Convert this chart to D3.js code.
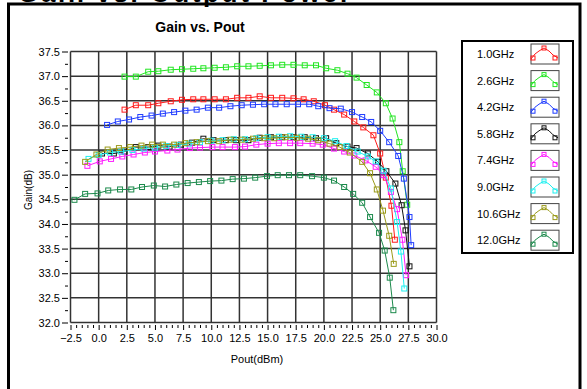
<!DOCTYPE html>
<html>
<head>
  <meta charset="utf-8">
  <script src="https://cdn.jsdelivr.net/npm/d3@7"></script>
  <style>
    body { margin: 0; background: #fff; }
    svg text { font-family: "Liberation Sans", Arial, sans-serif; fill: #000; }
    .tick_label { font-size: 11px; }
    .legend_label { font-size: 11px; }
  </style>
</head>
<body>
<div id="chartContainer"></div>
<script>
// series data: Pout (dBm) and Gain (dB)
var pout_1G0 = [2.3, 3.3, 4.4, 5.3, 6.4, 7.4, 8.4, 9.3, 10.3, 11.3, 12.3, 13.3, 14.3, 15.3, 16.3, 17.3, 18.2, 19.1, 20.1, 20.9, 21.8, 22.7, 23.5, 24.4, 25.0, 25.5, 26.0, 26.3];
var gain_1G0 = [36.32, 36.41, 36.41, 36.45, 36.49, 36.52, 36.53, 36.53, 36.53, 36.53, 36.56, 36.56, 36.59, 36.56, 36.56, 36.55, 36.53, 36.49, 36.41, 36.32, 36.22, 36.08, 35.96, 35.80, 35.43, 34.94, 34.37, 33.68];

var pout_2G6 = [2.3, 3.3, 4.4, 5.3, 6.4, 7.4, 8.4, 9.3, 10.3, 11.3, 12.3, 13.3, 14.3, 15.3, 16.3, 17.3, 18.3, 19.3, 20.2, 21.2, 22.1, 22.9, 23.8, 24.7, 25.5, 26.1, 26.7, 27.0, 27.4];
var gain_2G6 = [36.99, 36.99, 37.09, 37.10, 37.13, 37.14, 37.15, 37.16, 37.17, 37.18, 37.20, 37.20, 37.21, 37.22, 37.23, 37.23, 37.22, 37.22, 37.16, 37.12, 37.05, 36.97, 36.82, 36.67, 36.45, 36.14, 35.66, 35.07, 34.39];

var pout_4G2 = [0.75, 1.7, 2.7, 3.7, 4.7, 5.7, 6.7, 7.7, 8.7, 9.7, 10.7, 11.7, 12.7, 13.7, 14.7, 15.7, 16.7, 17.7, 18.7, 19.5, 20.5, 21.5, 22.5, 23.4, 24.2, 25.0, 25.8, 26.6, 27.1, 27.6, 27.75];
var gain_4G2 = [36.01, 36.08, 36.12, 36.17, 36.20, 36.24, 36.27, 36.30, 36.32, 36.36, 36.36, 36.39, 36.41, 36.42, 36.43, 36.43, 36.43, 36.43, 36.43, 36.39, 36.35, 36.34, 36.27, 36.17, 36.07, 35.89, 35.66, 35.38, 34.92, 34.14, 33.57];

var pout_5G8 = [0.3, 1.35, 2.3, 3.3, 4.4, 5.3, 6.3, 7.3, 8.3, 9.3, 10.2, 11.3, 12.2, 13.3, 14.3, 15.3, 16.3, 17.3, 18.3, 19.3, 20.2, 21.1, 22.1, 22.9, 23.9, 24.8, 25.55, 26.35, 26.9, 27.25, 27.6];
var gain_5G8 = [35.43, 35.43, 35.47, 35.56, 35.56, 35.59, 35.57, 35.61, 35.65, 35.73, 35.70, 35.70, 35.70, 35.70, 35.75, 35.76, 35.76, 35.76, 35.76, 35.74, 35.74, 35.64, 35.57, 35.54, 35.43, 35.26, 35.07, 34.82, 34.38, 33.87, 33.14];

var pout_7G4 = [-1.0, 0.1, 1.1, 2.1, 3.1, 4.1, 5.0, 6.1, 7.0, 8.1, 9.0, 10.1, 11.0, 12.1, 13.0, 14.0, 15.0, 16.0, 17.0, 17.9, 19.0, 19.9, 20.9, 21.8, 22.7, 23.7, 24.6, 25.3, 25.95, 26.5, 26.97, 27.3];
var gain_7G4 = [35.18, 35.27, 35.32, 35.37, 35.41, 35.45, 35.47, 35.49, 35.51, 35.54, 35.55, 35.56, 35.56, 35.56, 35.57, 35.61, 35.63, 35.64, 35.64, 35.64, 35.63, 35.61, 35.53, 35.47, 35.39, 35.29, 35.16, 34.99, 34.65, 34.30, 33.68, 32.96];

var pout_9G0 = [-0.9, 0.0, 1.0, 2.0, 3.0, 4.0, 5.0, 6.0, 7.0, 8.0, 9.0, 10.0, 11.0, 12.0, 13.0, 14.0, 15.0, 16.0, 17.0, 18.0, 19.0, 20.0, 21.0, 22.0, 23.0, 23.9, 24.6, 25.3, 25.95, 26.5, 26.84, 27.14];
var gain_9G0 = [35.32, 35.40, 35.45, 35.47, 35.50, 35.53, 35.55, 35.58, 35.60, 35.63, 35.66, 35.69, 35.70, 35.72, 35.72, 35.74, 35.76, 35.77, 35.78, 35.77, 35.76, 35.74, 35.68, 35.58, 35.47, 35.37, 35.27, 35.08, 34.72, 34.04, 33.44, 32.69];

var pout_10G6 = [-1.2, -0.2, 0.8, 1.8, 2.8, 3.8, 4.75, 5.7, 6.7, 7.7, 8.7, 9.7, 10.7, 11.7, 12.7, 13.7, 14.7, 15.6, 16.6, 17.6, 18.6, 19.5, 20.5, 21.4, 22.3, 23.4, 24.1, 24.7, 25.25, 25.8, 26.2];
var gain_10G6 = [35.26, 35.41, 35.51, 35.54, 35.56, 35.59, 35.61, 35.61, 35.61, 35.64, 35.66, 35.68, 35.68, 35.71, 35.71, 35.73, 35.74, 35.74, 35.76, 35.75, 35.73, 35.70, 35.63, 35.56, 35.45, 35.26, 35.03, 34.70, 34.27, 33.76, 33.19];

var pout_12G0 = [-2.15, -1.2, -0.1, 0.85, 1.9, 2.9, 3.85, 4.9, 5.9, 6.9, 7.9, 8.9, 9.9, 10.9, 11.9, 12.9, 13.9, 14.95, 15.9, 16.9, 17.9, 18.95, 20.0, 20.9, 21.8, 22.6, 23.4, 24.1, 24.9, 25.4, 25.85, 26.17];
var gain_12G0 = [34.49, 34.61, 34.62, 34.68, 34.70, 34.70, 34.75, 34.78, 34.76, 34.80, 34.83, 34.85, 34.87, 34.88, 34.91, 34.92, 34.94, 34.97, 34.99, 34.99, 34.99, 34.97, 34.94, 34.88, 34.75, 34.61, 34.43, 34.14, 33.82, 33.46, 32.91, 32.25];

var freq_labels = ["1.0GHz", "2.6GHz", "4.2GHz", "5.8GHz", "7.4GHz", "9.0GHz", "10.6GHz", "12.0GHz"];
var freq_colors = ["#ff1a1a", "#22e622", "#1f3cff", "#111111", "#ff1aff", "#1ef0f0", "#9a9a1a", "#1c8a4c"];
var pout_all = [pout_1G0, pout_2G6, pout_4G2, pout_5G8, pout_7G4, pout_9G0, pout_10G6, pout_12G0];
var gain_all = [gain_1G0, gain_2G6, gain_4G2, gain_5G8, gain_7G4, gain_9G0, gain_10G6, gain_12G0];

var x_ticks = d3.range(-2.5, 30.01, 2.5);
var y_ticks = d3.range(32, 37.51, 0.5);

var svg = d3.select("#chartContainer").append("svg")
  .attr("width", 587)
  .attr("height", 389);

// outer frame with the cut-off big heading
svg.append("text")
  .attr("x", 18)
  .attr("y", 2)
  .attr("textLength", 332)
  .style("font-size", "26px")
  .style("font-weight", "bold")
  .text("Gain vs. Output Power");
svg.append("path")
  .attr("d", "M8.5,400 V4 H580 V400")
  .attr("fill", "none")
  .attr("stroke", "#000")
  .attr("stroke-width", 3);

var x = d3.scaleLinear().domain([-2.5, 30]).range([70.5, 436.5]);
var y = d3.scaleLinear().domain([32, 37.5]).range([322.5, 51.5]);

svg.append("text")
  .attr("x", 200)
  .attr("y", 32)
  .attr("text-anchor", "middle")
  .style("font-size", "14px")
  .style("font-weight", "bold")
  .text("Gain vs. Pout");

// grid
svg.append("g").selectAll("line")
  .data(x_ticks).enter().append("line")
    .attr("x1", function (d) { return x(d); })
    .attr("x2", function (d) { return x(d); })
    .attr("y1", y(37.5))
    .attr("y2", y(32))
    .attr("stroke", "#333")
    .attr("stroke-width", 1.5);
svg.append("g").selectAll("line")
  .data(y_ticks).enter().append("line")
    .attr("x1", x(-2.5))
    .attr("x2", x(30))
    .attr("y1", function (d) { return y(d); })
    .attr("y2", function (d) { return y(d); })
    .attr("stroke", "#333")
    .attr("stroke-width", 1.5);

// axes, ticks only
var yAxis = d3.axisLeft(y).tickValues(y_ticks).tickSize(6).tickPadding(2)
  .tickFormat(d3.format(".1f"));
var yg = svg.append("g").attr("transform", "translate(68,0)").call(yAxis);
yg.select(".domain").remove();
yg.selectAll("text").attr("class", "tick_label").style("font-family", null);
svg.append("g").attr("transform", "translate(68,0)")
  .call(d3.axisLeft(y).tickValues(d3.range(32.25, 37.5, 0.5)).tickSize(3).tickFormat(""))
  .select(".domain").remove();

var xAxis = d3.axisBottom(x).tickValues(x_ticks).tickSize(5).tickPadding(4)
  .tickFormat(d3.format(".1f"));
var xg = svg.append("g").attr("transform", "translate(0,325)").call(xAxis);
xg.select(".domain").remove();
xg.selectAll("text").attr("class", "tick_label").style("font-family", null);
svg.append("g").attr("transform", "translate(0,325)")
  .call(d3.axisBottom(x).tickValues(d3.range(-2, 30, 0.5).filter(function (v) { return Math.abs(v / 2.5 - Math.round(v / 2.5)) > 0.01; })).tickSize(3).tickFormat(""))
  .select(".domain").remove();
svg.selectAll(".tick line").attr("stroke", "#000");

svg.append("text")
  .attr("x", 257)
  .attr("y", 363)
  .attr("text-anchor", "middle")
  .attr("class", "tick_label")
  .text("Pout(dBm)");
svg.append("text")
  .attr("transform", "translate(32,190) rotate(-90)")
  .attr("text-anchor", "middle")
  .style("font-size", "10px")
  .text("Gain(dB)");

// curves
var line = d3.line()
  .x(function (d) { return x(d[0]); })
  .y(function (d) { return y(d[1]); });

freq_labels.forEach(function (name, i) {
  var pts = d3.zip(pout_all[i], gain_all[i]);
  var g = svg.append("g");
  g.append("path")
    .datum(pts)
    .attr("d", line)
    .attr("fill", "none")
    .attr("stroke", freq_colors[i])
    .attr("stroke-width", 1);
  g.selectAll("rect")
    .data(pts).enter().append("rect")
      .attr("x", function (d) { return x(d[0]) - 2.5; })
      .attr("y", function (d) { return y(d[1]) - 2.5; })
      .attr("width", 5)
      .attr("height", 5)
      .attr("fill", "none")
      .attr("stroke", freq_colors[i])
      .attr("stroke-width", 1);
});

// legend
var legend = svg.append("g");
legend.append("rect")
  .attr("x", 462)
  .attr("y", 41)
  .attr("width", 111)
  .attr("height", 212)
  .attr("fill", "#fff")
  .attr("stroke", "#000")
  .attr("stroke-width", 2);
var swatch_pts = [[0, 15], [4, 10], [8, 7], [13, 4], [18, 7], [22, 11], [27, 14]];
var swatch_marks = [[2, 14], [13, 4], [24, 14]];
freq_labels.forEach(function (name, i) {
  var cy = 54 + i * 26.6;
  legend.append("text")
    .attr("class", "legend_label")
    .attr("x", 477)
    .attr("y", cy + 4)
    .text(name);
  var sx = 531, sy = cy - 10;
  legend.append("rect")
    .attr("x", sx).attr("y", sy)
    .attr("width", 28).attr("height", 20)
    .attr("fill", "#fff")
    .attr("stroke", "#444")
    .attr("stroke-width", 1);
  legend.append("path")
    .attr("d", d3.line()(swatch_pts.map(function (p) { return [sx + p[0], sy + p[1]]; })))
    .attr("fill", "none")
    .attr("stroke", freq_colors[i]);
  legend.selectAll(null)
    .data(swatch_marks).enter().append("rect")
      .attr("x", function (p) { return sx + p[0] - 2; })
      .attr("y", function (p) { return sy + p[1] - 2; })
      .attr("width", 4).attr("height", 4)
      .attr("fill", "none")
      .attr("stroke", freq_colors[i]);
});
</script>
</body>
</html>
